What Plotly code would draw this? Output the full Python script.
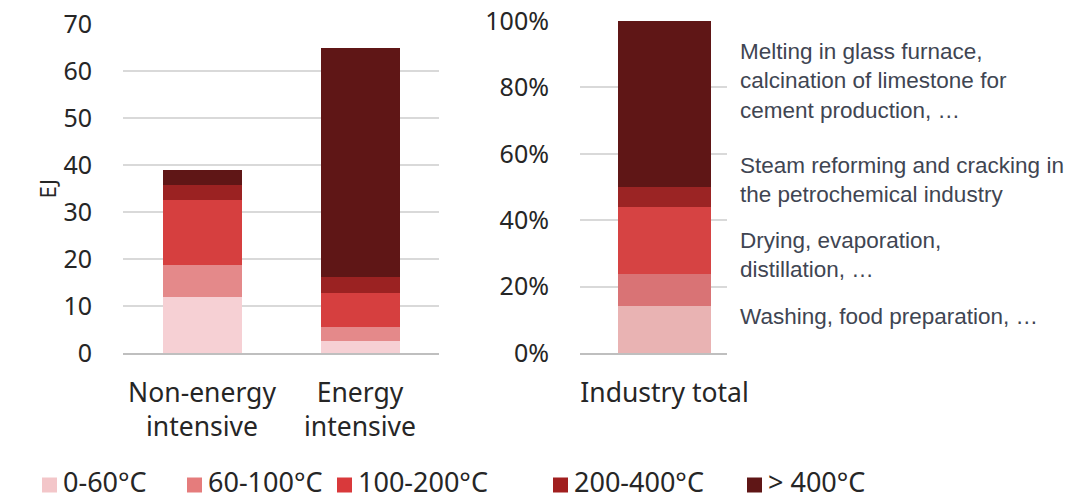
import plotly.graph_objects as go

# Heat demand by temperature level
bands = ["0-60°C", "60-100°C", "100-200°C", "200-400°C", "> 400°C"]

sectors = ["Non-energy<br>intensive", "Energy<br>intensive"]
non_energy_ej = [11.9, 6.8, 14.0, 3.0, 3.4]
energy_ej = [2.6, 3.0, 7.2, 3.4, 48.7]

total_label = ["Industry total"]
total_share = [14.2, 9.6, 20.3, 6.0, 49.9]

colors_left = ["#f6d0d4", "#e4898a", "#d63f3f", "#9b2222", "#5f1616"]
colors_right = ["#e9b3b3", "#d97375", "#d64343", "#9b2424", "#5f1616"]
colors_key = ["#f3c6c9", "#e57c7c", "#d9393b", "#a11f1f", "#5f1616"]

examples = [
    (82, "Melting in glass furnace,<br>calcination of limestone for<br>cement production, …"),
    (52, "Steam reforming and cracking in<br>the petrochemical industry"),
    (29.4, "Drying, evaporation,<br>distillation, …"),
    (11.1, "Washing, food preparation, …"),
]

W, H = 1067, 501
FONT = "Noto Sans"
INK = "#262626"

fig = go.Figure()
for i, band in enumerate(bands):
    fig.add_trace(go.Bar(
        x=sectors, y=[non_energy_ej[i], energy_ej[i]], name=band,
        marker=dict(color=colors_left[i], line=dict(width=0)),
        width=0.5, xaxis="x", yaxis="y", showlegend=False,
    ))
for i, band in enumerate(bands):
    fig.add_trace(go.Bar(
        x=total_label, y=[total_share[i]], name=band,
        marker=dict(color=colors_right[i], line=dict(width=0)),
        width=0.633, xaxis="x2", yaxis="y2", showlegend=False,
    ))

# example processes next to the share bar
for yv, txt in examples:
    fig.add_annotation(
        x=738 / W, y=yv, xref="paper", yref="y2", text=txt, showarrow=False,
        xanchor="left", yanchor="middle", align="left",
        font=dict(family="Liberation Sans, Arial", size=22.5, color="#404552"),
    )

# colour key along the bottom
key_x = [42, 187, 337, 553, 747]
key_y = (H - 485) / H
for i, band in enumerate(bands):
    x0 = key_x[i]
    fig.add_shape(type="rect", xref="paper", yref="paper",
                  x0=x0 / W, x1=(x0 + 15) / W,
                  y0=key_y - 7.5 / H, y1=key_y + 7.5 / H,
                  fillcolor=colors_key[i], line=dict(width=0))
    fig.add_annotation(x=(x0 + 20) / W, y=0, xref="paper", yref="paper",
                       text=band, showarrow=False, xanchor="left", yanchor="bottom",
                       borderpad=0,
                       font=dict(family=FONT, size=27, color=INK))

y_bottom = (H - 353) / H
axis_font = dict(family=FONT, size=25, color=INK)
cat_font = dict(family=FONT, size=26.5, color=INK)

fig.update_layout(
    width=W, height=H,
    margin=dict(l=0, r=0, t=0, b=0, autoexpand=False),
    paper_bgcolor="white", plot_bgcolor="white",
    barmode="stack",
    showlegend=False,
    font=dict(family=FONT, color=INK),
    xaxis=dict(domain=[123 / W, 439 / W], range=[-0.5, 1.5], type="category",
               showgrid=False, showline=True, linecolor="#bfbfbf", linewidth=2,
               ticks="", tickfont=cat_font, ticklabelstandoff=15, automargin=False),
    yaxis=dict(domain=[y_bottom, (H - 24.5) / H], range=[0, 70], dtick=10,
               showgrid=True, gridcolor="#d9d9d9", gridwidth=1.5, zeroline=False,
               showline=False, ticks="", tickfont=axis_font, ticklabelstandoff=30,
               automargin=False,
               title=dict(text="EJ", font=dict(family=FONT, size=22, color=INK),
                          standoff=0)),
    xaxis2=dict(domain=[580 / W, 727 / W], range=[-0.575, 0.425], type="category",
                anchor="y2", showgrid=False, showline=True, linecolor="#bfbfbf",
                linewidth=2, ticks="", tickfont=cat_font, ticklabelstandoff=15,
                automargin=False),
    yaxis2=dict(domain=[y_bottom, (H - 21) / H], range=[0, 100], dtick=20,
                ticksuffix="%", anchor="x2", showgrid=True, gridcolor="#d9d9d9",
                gridwidth=1.5, zeroline=False, showline=False, ticks="",
                tickfont=axis_font, ticklabelstandoff=30, automargin=False),
)

fig.write_html("out.html")
